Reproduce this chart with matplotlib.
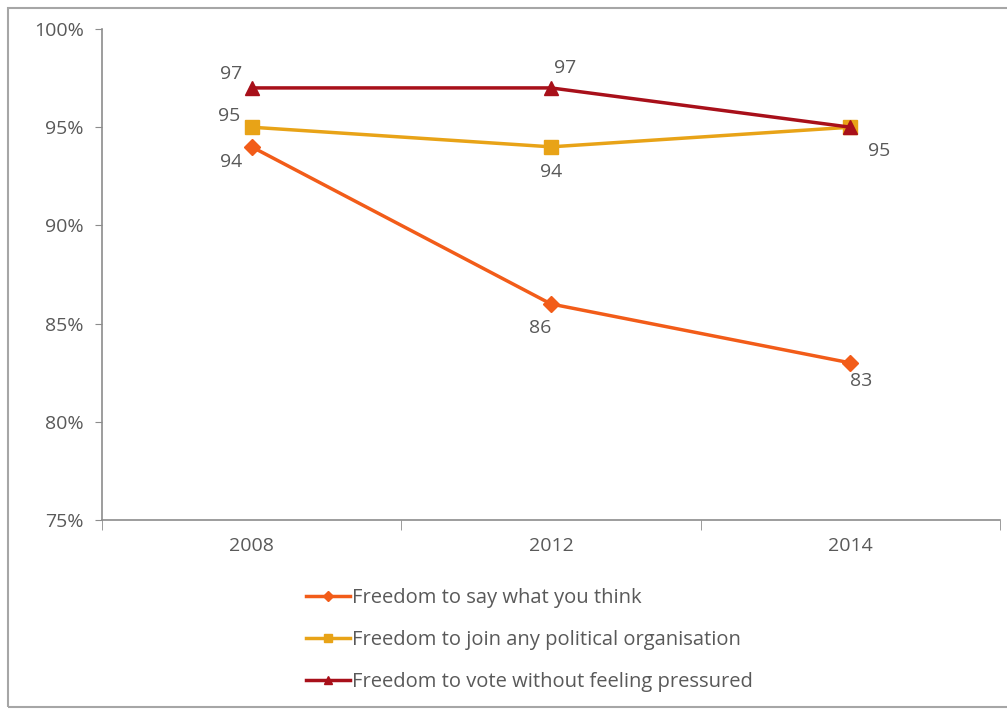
import matplotlib.pyplot as plt
from matplotlib.patches import Rectangle
from matplotlib.ticker import FixedLocator

years = ['2008', '2012', '2014']
say_think = [94, 86, 83]
join_org = [95, 94, 95]
vote_free = [97, 97, 95]
series_names = ['Freedom to say what you think',
                'Freedom to join any political organisation',
                'Freedom to vote without feeling pressured']

plt.rcParams['font.family'] = ['Open Sans', 'DejaVu Sans']
grey = '#595959'
axis_grey = '#8c8c8c'

fig = plt.figure(figsize=(10.07, 7.11), dpi=100)
ax = fig.add_axes([102 / 1007, 1 - 520 / 711, 898 / 1007, 491 / 711])

x = list(range(len(years)))
l1, = ax.plot(x, say_think, color='#F25C19', lw=2.5, marker='D', ms=8, label=series_names[0])
l2, = ax.plot(x, join_org, color='#E8A317', lw=2.5, marker='s', ms=10, label=series_names[1])
l3, = ax.plot(x, vote_free, color='#A8101A', lw=2.5, marker='^', ms=10, label=series_names[2])

# data labels (offsets in points)
lbl = dict(fontsize=14, color=grey, ha='center', va='center')
ax.annotate(str(say_think[0]), (0, say_think[0]), xytext=(-15, -11), textcoords='offset points', **lbl)
ax.annotate(str(say_think[1]), (1, say_think[1]), xytext=(-8, -17), textcoords='offset points', **lbl)
ax.annotate(str(say_think[2]), (2, say_think[2]), xytext=(8, -13), textcoords='offset points', **lbl)
ax.annotate(str(join_org[0]), (0, join_org[0]), xytext=(-16, 8), textcoords='offset points', **lbl)
ax.annotate(str(join_org[1]), (1, join_org[1]), xytext=(0, -18), textcoords='offset points', **lbl)
ax.annotate(str(join_org[2]), (2, join_org[2]), xytext=(21, -17), textcoords='offset points', **lbl)
ax.annotate(str(vote_free[0]), (0, vote_free[0]), xytext=(-15, 10), textcoords='offset points', **lbl)
ax.annotate(str(vote_free[1]), (1, vote_free[1]), xytext=(10, 14), textcoords='offset points', **lbl)

ax.set_xlim(-0.5, 2.5)
ax.set_ylim(75, 100)
ax.set_yticks([75, 80, 85, 90, 95, 100])
ax.set_yticklabels([f'{v}%' for v in [75, 80, 85, 90, 95, 100]])
ax.set_xticks(x)
ax.set_xticklabels(years)
ax.xaxis.set_minor_locator(FixedLocator([-0.5, 0.5, 1.5, 2.5]))
ax.tick_params(axis='x', which='major', length=0, pad=12, labelsize=14, labelcolor=grey)
ax.tick_params(axis='x', which='minor', length=7, color=axis_grey, direction='out')
ax.tick_params(axis='y', length=5, color=axis_grey, pad=8, labelsize=14, labelcolor=grey)

for s in ['top', 'right']:
    ax.spines[s].set_visible(False)
for s in ['left', 'bottom']:
    ax.spines[s].set_color(axis_grey)
    ax.spines[s].set_linewidth(1.2)

fig.legend(handles=[l1, l2, l3], loc='upper left', bbox_to_anchor=(288 / 1007, 1 - 570 / 711),
           frameon=False, fontsize=14.5, labelcolor=grey, handlelength=2.2, handletextpad=0.1,
           labelspacing=1.1, markerscale=0.6)

# outer chart border
fig.add_artist(Rectangle((8 / 1007, 4 / 711), 1.2, 1 - 12 / 711, transform=fig.transFigure,
                         fill=False, edgecolor='#a6a6a6', lw=1.5))

fig.savefig('out.png', dpi=100)
